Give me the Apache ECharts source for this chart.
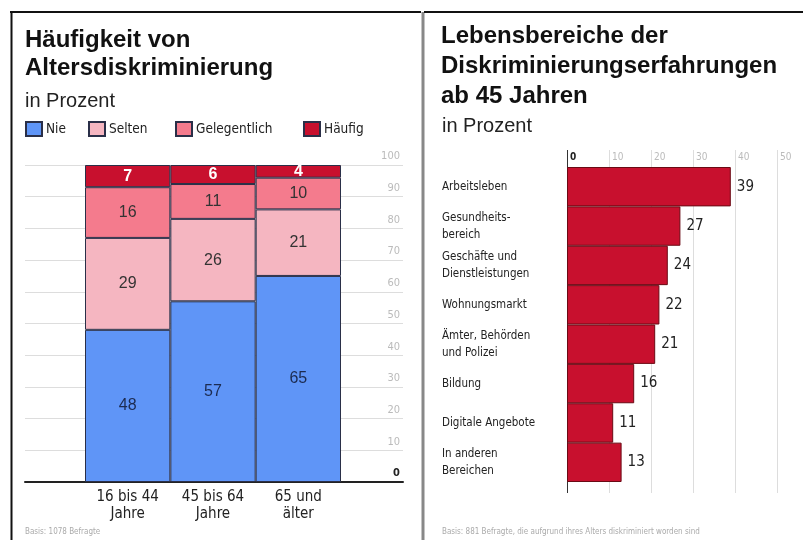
<!DOCTYPE html>
<html><head><meta charset="utf-8">
<script src="https://cdn.jsdelivr.net/npm/echarts@6/dist/echarts.min.js"></script>
<style>html,body{margin:0;padding:0;background:#fff}#c{width:803px;height:540px}</style>
</head><body><div id="c"></div>
<script>
// Left chart data
const ageGroups = ['16 bis 44\nJahre', '45 bis 64\nJahre', '65 und\nälter'];
const nie = [48, 57, 65];
const selten = [29, 26, 21];
const gelegentlich = [16, 11, 10];
const haeufig = [7, 6, 4];
const freqNames = ['Nie', 'Selten', 'Gelegentlich', 'Häufig'];
// Right chart data
const areas = ['Arbeitsleben', 'Gesundheits-\nbereich', 'Geschäfte und\nDienstleistungen', 'Wohnungsmarkt', 'Ämter, Behörden\nund Polizei', 'Bildung', 'Digitale Angebote', 'In anderen\nBereichen'];
const areaValues = [39, 27, 24, 22, 21, 16, 11, 13];

const cond = '"DejaVu Sans Condensed", "Liberation Sans Narrow", sans-serif';
const sans = '"Liberation Sans", Arial, sans-serif';
const colors = ['#5f95f7', '#f5b6c1', '#f47b8d', '#c8102e'];
const labelColors = ['#1c2b50', '#333', '#333', '#fff'];
const stackData = [nie, selten, gelegentlich, haeufig];

const chart = echarts.init(document.getElementById('c'), null, {renderer: 'canvas'});

const leftSeries = freqNames.map((n, i) => ({
  name: n, type: 'bar', stack: 'a', xAxisIndex: 1, yAxisIndex: 1,
  barWidth: '100%', data: stackData[i],
  itemStyle: {color: colors[i], borderColor: '#2a2f48', borderWidth: 1},
  label: {show: true, position: 'inside', color: labelColors[i], fontFamily: sans, fontSize: 16,
          fontWeight: i === 3 ? 'bold' : 'normal'},
  emphasis: {disabled: true}
}));

const legendPos = [25, 88, 175, 303];
const legends = freqNames.map((n, i) => ({
  data: [n], left: legendPos[i], top: 121, padding: 0, itemWidth: 16, itemHeight: 14, itemGap: 0,
  icon: 'rect', selectedMode: false,
  textStyle: {fontFamily: cond, fontSize: 13.5, color: '#222', padding: [0, 0, 0, -1]}
}));

const gridTick = (v) => (v === 0 ? '{z|0}' : '{g|' + v + '}');

chart.setOption({
  animation: false,
  backgroundColor: '#fff',
  title: [
    {text: 'Häufigkeit von\nAltersdiskriminierung', left: 25, top: 26, padding: 0,
     textStyle: {fontFamily: sans, fontWeight: 'bold', fontSize: 24, lineHeight: 28, color: '#111'}},
    {text: 'in Prozent', left: 25, top: 91, padding: 0, textStyle: {fontFamily: sans, fontWeight: 'normal', fontSize: 20, color: '#222'}},
    {text: 'Lebensbereiche der\nDiskriminierungserfahrungen\nab 45 Jahren', left: 441, top: 21, padding: 0,
     textStyle: {fontFamily: sans, fontWeight: 'bold', fontSize: 24, lineHeight: 30, color: '#111'}},
    {text: 'in Prozent', left: 442, top: 116, padding: 0, textStyle: {fontFamily: sans, fontWeight: 'normal', fontSize: 20, color: '#222'}},
    {text: 'Basis: 1078 Befragte', left: 25, top: 528, padding: 0, textStyle: {fontFamily: cond, fontWeight: 'normal', fontSize: 8, color: '#aaa'}},
    {text: 'Basis: 881 Befragte, die aufgrund ihres Alters diskriminiert worden sind', left: 442, top: 528, padding: 0, textStyle: {fontFamily: cond, fontWeight: 'normal', fontSize: 8, color: '#aaa'}}
  ],
  legend: legends,
  grid: [
    {left: 25, right: 400, top: 165, bottom: 58},
    {left: 85, width: 256, top: 165, bottom: 58},
    {left: 567, width: 210, top: 150, bottom: 47},
    {left: 567, width: 210, top: 167, bottom: 58}
  ],
  xAxis: [
    {gridIndex: 0, type: 'category', data: ['a'], axisLine: {show: true, lineStyle: {color: '#222', width: 2}}, axisTick: {show: false}, axisLabel: {show: false}},
    {gridIndex: 1, type: 'category', data: ageGroups, axisLine: {show: false}, axisTick: {show: false},
     axisLabel: {fontFamily: cond, fontSize: 15, color: '#222', lineHeight: 17, margin: 7}},
    {gridIndex: 2, type: 'value', min: 0, max: 50, interval: 10, position: 'top',
     axisLine: {show: false}, axisTick: {show: false},
     splitLine: {show: true, lineStyle: {color: ['#333', '#ddd', '#ddd', '#ddd', '#ddd', '#ddd'], width: 1}},
     axisLabel: {inside: true, margin: 2, align: 'left', formatter: gridTick,
       rich: {
         z: {fontFamily: cond, fontSize: 10, color: '#222', fontWeight: 'bold', padding: [0, 0, 0, 3]},
         g: {fontFamily: cond, fontSize: 10, color: '#bbb', padding: [0, 0, 0, 3]}
       }}},
    {gridIndex: 3, type: 'value', min: 0, max: 50, show: false}
  ],
  yAxis: [
    {gridIndex: 0, type: 'value', min: 0, max: 100, interval: 10, position: 'right',
     axisLine: {show: false}, axisTick: {show: false},
     splitLine: {show: true, lineStyle: {color: '#ddd', width: 1}},
     axisLabel: {inside: true, margin: 3, verticalAlign: 'bottom', formatter: gridTick,
       rich: {
         z: {fontFamily: cond, fontSize: 11, color: '#222', fontWeight: 'bold', padding: [0, 0, 3, 0]},
         g: {fontFamily: cond, fontSize: 11, color: '#bbb', padding: [0, 0, 3, 0]}
       }}},
    {gridIndex: 1, type: 'value', min: 0, max: 100, show: false},
    {gridIndex: 2, type: 'category', data: ['a'], show: false},
    {gridIndex: 3, type: 'category', data: areas, inverse: true, axisLine: {show: false}, axisTick: {show: false},
     axisLabel: {align: 'left', margin: 125, fontFamily: cond, fontSize: 11.5, color: '#222', lineHeight: 17, padding: [6, 0, 0, 0]}}
  ],
  series: leftSeries.concat([
    {type: 'bar', xAxisIndex: 3, yAxisIndex: 3, barWidth: '100%', data: areaValues,
     itemStyle: {color: '#c8102e', borderColor: '#6a0a14', borderWidth: 1},
     label: {show: true, position: 'right', distance: 6, fontFamily: cond, fontSize: 15, color: '#222'},
     emphasis: {disabled: true}}
  ]),
  graphic: [
    {type: 'line', shape: {x1: 10, y1: 12, x2: 421, y2: 12}, style: {stroke: '#111', lineWidth: 2}},
    {type: 'line', shape: {x1: 11.5, y1: 12, x2: 11.5, y2: 540}, style: {stroke: '#111', lineWidth: 2}},
    {type: 'line', shape: {x1: 423, y1: 12, x2: 423, y2: 540}, style: {stroke: '#888', lineWidth: 3}},
    {type: 'line', shape: {x1: 424, y1: 12, x2: 803, y2: 12}, style: {stroke: '#111', lineWidth: 2}}
  ]
});
</script></body></html>
